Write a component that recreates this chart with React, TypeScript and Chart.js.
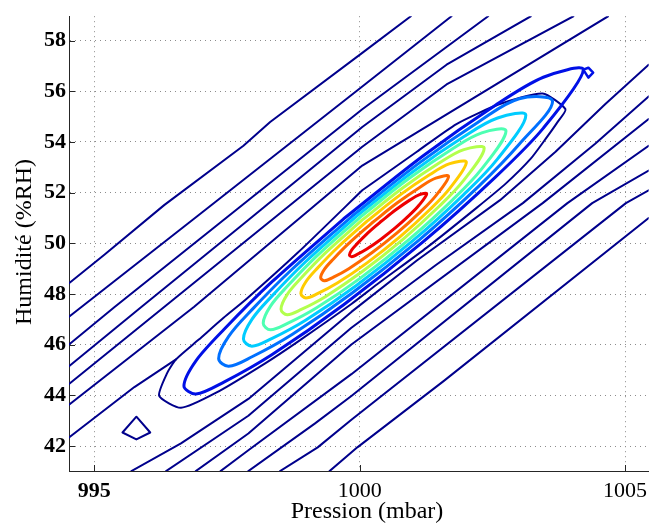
import React, { useEffect, useRef } from "react";
import { Chart, registerables } from "chart.js";
Chart.register(...registerables);

const xTicks = [995, 1000, 1005];
const yTicks = [42, 44, 46, 48, 50, 52, 54, 56, 58];
const xLabel = "Pression (mbar)";
const yLabel = "Humidité (%RH)";

// open iso-lines, upper-left side of the ridge
const lineAX = [994.522, 995.194, 996.315, 997.809, 998.313, 1000.049, 1000.964];
const lineAY = [48.426, 49.558, 51.508, 53.849, 54.786, 57.517, 58.961];
const lineBX = [994.522, 996.968, 1000.049, 1001.73];
const lineBY = [47.1, 51.118, 56.191, 58.961];
const lineCX = [994.522, 995.381, 1000.049, 1002.421];
const lineCY = [46.007, 47.49, 55.293, 58.961];
const lineDX = [994.522, 995.885, 997.902, 1000.049, 1001.637, 1003.224];
const lineDY = [45.149, 47.49, 50.923, 54.591, 57.049, 58.961];
const lineEX = [994.522, 996.315, 1000.049, 1001.637, 1004.027];
const lineEY = [44.446, 47.49, 53.81, 56.269, 58.961];
const lineFX = [994.522, 996.875, 1000.049, 1004.681];
const lineFY = [43.627, 47.49, 53.069, 58.961];
const lineHX = [994.522, 995.101, 995.754, 996.539];
const lineHY = [42.339, 43.276, 44.329, 45.422];

// open iso-lines, lower-right side of the ridge
const lineR1X = [999.433, 999.956, 1001.581, 1005.446];
const lineR1Y = [41.013, 41.949, 44.563, 51.001];
const lineR2X = [998.5, 999.209, 999.844, 1005.017, 1005.446];
const lineR2Y = [41.013, 41.949, 43.042, 51.587, 52.094];
const lineR3X = [997.902, 999.153, 999.844, 1004.382, 1005.446];
const lineR3Y = [41.013, 42.886, 43.978, 51.587, 52.874];
const lineR4X = [997.379, 997.902, 999.844, 1003.915, 1005.446];
const lineR4Y = [41.013, 41.832, 44.837, 51.587, 53.849];
const lineR5X = [996.912, 997.902, 999.844, 1003.448, 1005.446];
const lineR5Y = [41.013, 42.496, 46.007, 51.587, 54.903];
const lineR6X = [996.352, 997.902, 999.844, 1001.45, 1003.075, 1004.438, 1005.446];
const lineR6Y = [41.013, 43.198, 46.67, 49.167, 51.587, 53.927, 55.8];
const lineR7X = [995.698, 996.632, 997.902, 999.844, 1001.077, 1002.645, 1003.691, 1004.625, 1005.446];
const lineR7Y = [41.013, 42.105, 43.861, 47.295, 49.323, 51.704, 53.615, 55.488, 57.049];

// small closed loop, lower left
const triX = [995.53, 995.792, 996.053, 995.792, 995.53];
const triY = [42.535, 43.159, 42.535, 42.261, 42.535];

// closed contours (upper side then lower side)
const envX = [996.221, 996.371, 996.539, 996.968, 997.435, 997.865, 998.836, 1000.049, 1001.077, 1001.824, 1002.627, 1003.448, 1003.878, 1003.728, 1003.504, 1003.224, 1002.757, 1002.197, 1001.263, 1000.33, 999.844, 998.836, 998.219, 997.286, 996.632];
const envY = [43.978, 44.876, 45.422, 46.202, 47.061, 47.802, 49.636, 52.094, 53.615, 54.708, 55.488, 55.917, 55.293, 54.786, 54.123, 53.342, 52.367, 51.391, 49.831, 48.387, 47.607, 46.124, 45.266, 44.095, 43.51];

const blueX = [996.688, 996.914, 997.441, 998.344, 999.698, 1001.204, 1002.558, 1003.461, 1004.214, 1003.461, 1002.558, 1001.204, 999.698, 998.344, 997.441, 996.914];
const blueY = [44.368, 45.366, 46.601, 48.476, 50.969, 53.467, 55.451, 56.555, 56.854, 54.548, 52.614, 50.076, 47.578, 45.604, 44.525, 44.051];
const blueTipX = [1004.214, 1004.31, 1004.4, 1004.31, 1004.214];
const blueTipY = [56.854, 56.93, 56.74, 56.54, 56.854];

const azureX = [997.342, 997.531, 997.971, 998.726, 999.859, 1001.118, 1002.251, 1003.006, 1003.635, 1003.006, 1002.251, 1001.118, 999.859, 998.726, 997.971, 997.531];
const azureY = [45.453, 46.329, 47.384, 48.977, 51.079, 53.167, 54.811, 55.708, 55.6, 53.91, 52.269, 50.129, 48.041, 46.404, 45.524, 45.151];

const cyanX = [997.809, 997.969, 998.341, 998.98, 999.938, 1001.002, 1001.96, 1002.599, 1003.131, 1002.599, 1001.96, 1001.002, 999.938, 998.98, 998.341, 997.969];
const cyanY = [46.228, 46.998, 47.908, 49.274, 51.063, 52.828, 54.205, 54.945, 55.057, 53.333, 51.925, 50.104, 48.339, 46.966, 46.24, 45.942];

const aquaX = [998.182, 998.319, 998.64, 999.189, 1000.012, 1000.927, 1001.751, 1002.3, 1002.757, 1002.3, 1001.751, 1000.927, 1000.012, 999.189, 998.64, 998.319];
const aquaY = [46.847, 47.522, 48.314, 49.496, 51.039, 52.557, 53.736, 54.362, 54.436, 52.936, 51.718, 50.147, 48.629, 47.455, 46.838, 46.588];

const lgreenX = [998.518, 998.633, 998.901, 999.36, 1000.049, 1000.815, 1001.504, 1001.963, 1002.346, 1001.963, 1001.504, 1000.815, 1000.049, 999.36, 998.901, 998.633];
const lgreenY = [47.404, 47.975, 48.639, 49.631, 50.924, 52.195, 53.178, 53.699, 53.755, 52.493, 51.472, 50.157, 48.886, 47.905, 47.391, 47.185];

const yellowX = [998.892, 998.986, 999.204, 999.578, 1000.139, 1000.763, 1001.324, 1001.698, 1002.01, 1001.698, 1001.324, 1000.763, 1000.139, 999.578, 999.204, 998.986];
const yellowY = [48.024, 48.484, 49.022, 49.827, 50.877, 51.912, 52.715, 53.144, 53.197, 52.17, 51.337, 50.266, 49.231, 48.433, 48.014, 47.846];

const orangeX = [999.265, 999.337, 999.506, 999.795, 1000.229, 1000.71, 1001.144, 1001.433, 1001.674, 1001.433, 1001.144, 1000.71, 1000.229, 999.795, 999.506, 999.337];
const orangeY = [48.643, 48.98, 49.385, 49.996, 50.802, 51.599, 52.228, 52.571, 52.64, 51.875, 51.244, 50.423, 49.626, 49.0, 48.665, 48.524];

const redX = [999.807, 999.851, 999.953, 1000.127, 1000.389, 1000.681, 1000.943, 1001.117, 1001.263, 1001.117, 1000.943, 1000.681, 1000.389, 1000.127, 999.953, 999.851];
const redY = [49.542, 49.744, 49.989, 50.355, 50.841, 51.325, 51.706, 51.913, 51.958, 51.501, 51.124, 50.629, 50.145, 49.766, 49.563, 49.474];

const NAVY = "#00008C";
const FONT = '"Liberation Serif", "Times New Roman", serif';

function openLine(xs: number[], ys: number[]) {
  return xs.map((x, i) => ({ x, y: ys[i] }));
}
function ring(xs: number[], ys: number[], start: number) {
  const n = xs.length;
  const pts: { x: number; y: number }[] = [];
  for (let k = 0; k <= n; k++) {
    const i = (start + k) % n;
    pts.push({ x: xs[i], y: ys[i] });
  }
  return pts;
}

function ds(data: any[], color: string, width: number, tension: number) {
  return {
    data,
    showLine: true,
    borderColor: color,
    backgroundColor: color,
    borderWidth: width,
    pointRadius: 0,
    pointHoverRadius: 0,
    tension,
    fill: false,
    clip: 0,
    borderJoinStyle: "round" as const,
    borderCapStyle: "round" as const,
  };
}

const decor = {
  id: "decor",
  beforeDatasetsDraw(chart: any) {
    const { ctx, chartArea, scales } = chart;
    ctx.save();
    ctx.strokeStyle = "#262626";
    ctx.lineWidth = 1;
    ctx.beginPath();
    yTicks.forEach((v) => {
      const y = Math.round(scales.y.getPixelForValue(v)) + 0.5;
      ctx.moveTo(chartArea.left, y);
      ctx.lineTo(chartArea.left + 6, y);
    });
    xTicks.forEach((v) => {
      const x = Math.round(scales.x.getPixelForValue(v)) + 0.5;
      ctx.moveTo(x, chartArea.bottom);
      ctx.lineTo(x, chartArea.bottom - 6);
    });
    ctx.stroke();
    ctx.restore();
  },
  afterDraw(chart: any) {
    const { ctx } = chart;
    ctx.save();
    ctx.fillStyle = "#000";
    ctx.font = "24px " + FONT;
    ctx.textAlign = "center";
    ctx.textBaseline = "alphabetic";
    ctx.fillText(xLabel, 367, 518);
    ctx.translate(31, 242);
    ctx.rotate(-Math.PI / 2);
    ctx.fillText(yLabel, 0, 0);
    ctx.restore();
  },
};

export default function App() {
  const ref = useRef<HTMLCanvasElement>(null);
  useEffect(() => {
    if (!ref.current) return;
    const datasets = [
      ds(ring(redX, redY, 4), "#EE0000", 3, 0.35),
      ds(ring(orangeX, orangeY, 4), "#FF6A00", 3, 0.35),
      ds(ring(yellowX, yellowY, 4), "#FFCC00", 3, 0.35),
      ds(ring(lgreenX, lgreenY, 4), "#B3FF4D", 3, 0.35),
      ds(ring(aquaX, aquaY, 4), "#4DFFB2", 3, 0.35),
      ds(ring(cyanX, cyanY, 4), "#00CCFF", 3, 0.35),
      ds(ring(azureX, azureY, 4), "#0070FF", 3, 0.35),
      ds(ring(blueX, blueY, 4), "#0010E6", 3, 0.3),
      ds(openLine(blueTipX, blueTipY), "#0010E6", 2.5, 0),
      ds(ring(envX, envY, 7), NAVY, 2, 0.2),
      ds(openLine(triX, triY), NAVY, 2, 0),
      ds(openLine(lineAX, lineAY), NAVY, 2, 0),
      ds(openLine(lineBX, lineBY), NAVY, 2, 0),
      ds(openLine(lineCX, lineCY), NAVY, 2, 0),
      ds(openLine(lineDX, lineDY), NAVY, 2, 0),
      ds(openLine(lineEX, lineEY), NAVY, 2, 0),
      ds(openLine(lineFX, lineFY), NAVY, 2, 0),
      ds(openLine(lineHX, lineHY), NAVY, 2, 0),
      ds(openLine(lineR1X, lineR1Y), NAVY, 2, 0),
      ds(openLine(lineR2X, lineR2Y), NAVY, 2, 0),
      ds(openLine(lineR3X, lineR3Y), NAVY, 2, 0),
      ds(openLine(lineR4X, lineR4Y), NAVY, 2, 0),
      ds(openLine(lineR5X, lineR5Y), NAVY, 2, 0),
      ds(openLine(lineR6X, lineR6Y), NAVY, 2, 0),
      ds(openLine(lineR7X, lineR7Y), NAVY, 2, 0),
    ];
    const chart = new Chart(ref.current, {
      type: "scatter",
      data: { datasets: datasets as any },
      plugins: [decor],
      options: {
        responsive: false,
        animation: false,
        devicePixelRatio: 1,
        events: [],
        layout: { padding: { top: 11, right: 0, left: 0, bottom: 0 } },
        plugins: { legend: { display: false }, tooltip: { enabled: false } },
        scales: {
          x: {
            type: "linear",
            min: 994.522,
            max: 1005.446,
            afterBuildTicks: (s: any) => {
              s.ticks = xTicks.map((v) => ({ value: v }));
            },
            afterFit: (s: any) => {
              s.height = 54;
            },
            ticks: {
              autoSkip: false,
              maxRotation: 0,
              padding: 7,
              color: "#000",
              font: (c: any) => ({
                family: FONT,
                size: 22,
                weight: c.tick && c.tick.value === 995 ? "bold" : "normal",
              }),
              callback: (v: any) => String(v),
            },
            grid: { color: "#8c8c8c", lineWidth: 1, drawTicks: false },
            border: { display: true, color: "#262626", width: 1, dash: [1, 4] },
          },
          y: {
            type: "linear",
            min: 41.016,
            max: 58.964,
            afterBuildTicks: (s: any) => {
              s.ticks = yTicks.map((v) => ({ value: v }));
            },
            afterFit: (s: any) => {
              s.width = 69;
            },
            ticks: {
              autoSkip: false,
              padding: 3,
              color: "#000",
              font: { family: FONT, size: 22, weight: "bold" },
              callback: (v: any) => String(v),
            },
            grid: { color: "#8c8c8c", lineWidth: 1, drawTicks: false },
            border: { display: true, color: "#262626", width: 1, dash: [1, 4] },
          },
        },
      } as any,
    });
    return () => chart.destroy();
  }, []);
  return (
    <div style={{ position: "absolute", left: 0, top: 0, width: 654, height: 525, background: "#fff" }}>
      <canvas ref={ref} width={654} height={525} style={{ display: "block", width: 654, height: 525 }} />
    </div>
  );
}
